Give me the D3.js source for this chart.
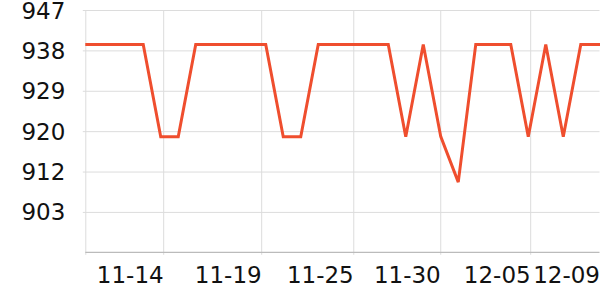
<!DOCTYPE html>
<html>
<head>
<meta charset="utf-8">
<script src="https://cdn.jsdelivr.net/npm/d3@7"></script>
<style>
  body { margin: 0; background: #fff; }
  svg { display: block; }
  svg text { font-family: "DejaVu Sans", sans-serif; }
  .grid line { stroke: #dcdcdc; stroke-width: 1; }
  .grid path { display: none; }
  .ylab text, .xlab text { fill: #111; font-size: 23px; }
</style>
</head>
<body>
<svg width="600" height="300"></svg>
<script>
// values start one day before the first visible point (clipped at the left edge)
var values = [939.5, 939.5, 939.5, 939.5, 939.5, 919.4, 919.4, 939.5, 939.5, 939.5,
              939.5, 939.5, 919.4, 919.4, 939.5, 939.5, 939.5, 939.5, 939.5, 919.4,
              939.5, 919.4, 909.5, 939.5, 939.5, 939.5, 919.4, 939.5, 919.4, 939.5,
              939.5, 939.5];
var firstDay = -1;

var xGrid = [-0.31, 4.14, 9.74, 15.0, 19.97, 25.11];
var xLabelPos = [4.14, 9.74, 15.0, 19.97, 25.11, 29.07];
var xLabels = ["11-14", "11-19", "11-25", "11-30", "12-05", "12-09"];

var yTicks = [947, 938.2, 929.4, 920.6, 911.8, 903];
var yLabels = ["947", "938", "929", "920", "912", "903"];

var svg = d3.select("svg"),
    plotLeft = 85.3, plotRight = 599.5, plotTop = 10, plotBottom = 252.3;

var x = d3.scaleLinear().domain([-0.31, 29.07]).range([plotLeft, plotRight]);
var y = d3.scaleLinear().domain([894.2, 947]).range([plotBottom, plotTop]);

// horizontal grid
svg.append("g")
    .attr("class", "grid")
    .attr("transform", "translate(" + (plotLeft - 2.5) + ",0)")
    .call(d3.axisLeft(y).tickValues(yTicks).tickSizeOuter(0).tickFormat(""))
    .selectAll("line").attr("x1", 0).attr("x2", plotRight - plotLeft + 2.5);

// vertical grid
svg.append("g")
    .attr("class", "grid")
    .attr("transform", "translate(0," + plotBottom + ")")
    .call(d3.axisBottom(x).tickValues(xGrid).tickSizeOuter(0).tickFormat(""))
    .selectAll("line").attr("y1", 2.5).attr("y2", -(plotBottom - plotTop));

// x axis line
svg.append("line")
    .attr("x1", plotLeft).attr("x2", plotRight)
    .attr("y1", plotBottom).attr("y2", plotBottom)
    .attr("stroke", "#bbb").attr("stroke-width", 1.2);

// y labels
svg.append("g")
    .attr("class", "ylab")
    .attr("transform", "translate(" + (plotLeft - 20) + ",0)")
    .call(d3.axisLeft(y).tickValues(yTicks).tickSize(0).tickPadding(0)
      .tickFormat(function(d, i) { return yLabels[i]; }))
    .attr("font-family", null).attr("font-size", null)
    .call(function(g) { g.select(".domain").remove(); })
    .selectAll("text").attr("dy", "0.35em");

// x labels, right aligned to their positions
svg.append("g")
    .attr("class", "xlab")
    .attr("transform", "translate(0," + plotBottom + ")")
    .call(d3.axisBottom(x).tickValues(xLabelPos).tickSize(0).tickPadding(0)
      .tickFormat(function(d, i) { return xLabels[i]; }))
    .attr("font-family", null).attr("font-size", null)
    .call(function(g) { g.select(".domain").remove(); })
    .selectAll("text")
      .attr("text-anchor", "end")
      .attr("dy", 0)
      .attr("y", 30.5);

svg.append("clipPath").attr("id", "clip")
  .append("rect")
    .attr("x", plotLeft).attr("y", 0)
    .attr("width", 600 - plotLeft).attr("height", plotBottom);

var line = d3.line()
    .x(function(d, i) { return x(firstDay + i); })
    .y(function(d) { return y(d); });

svg.append("path")
    .datum(values)
    .attr("clip-path", "url(#clip)")
    .attr("fill", "none")
    .attr("stroke", "#ef4e2e")
    .attr("stroke-width", 3)
    .attr("d", line);
</script>
</body>
</html>
